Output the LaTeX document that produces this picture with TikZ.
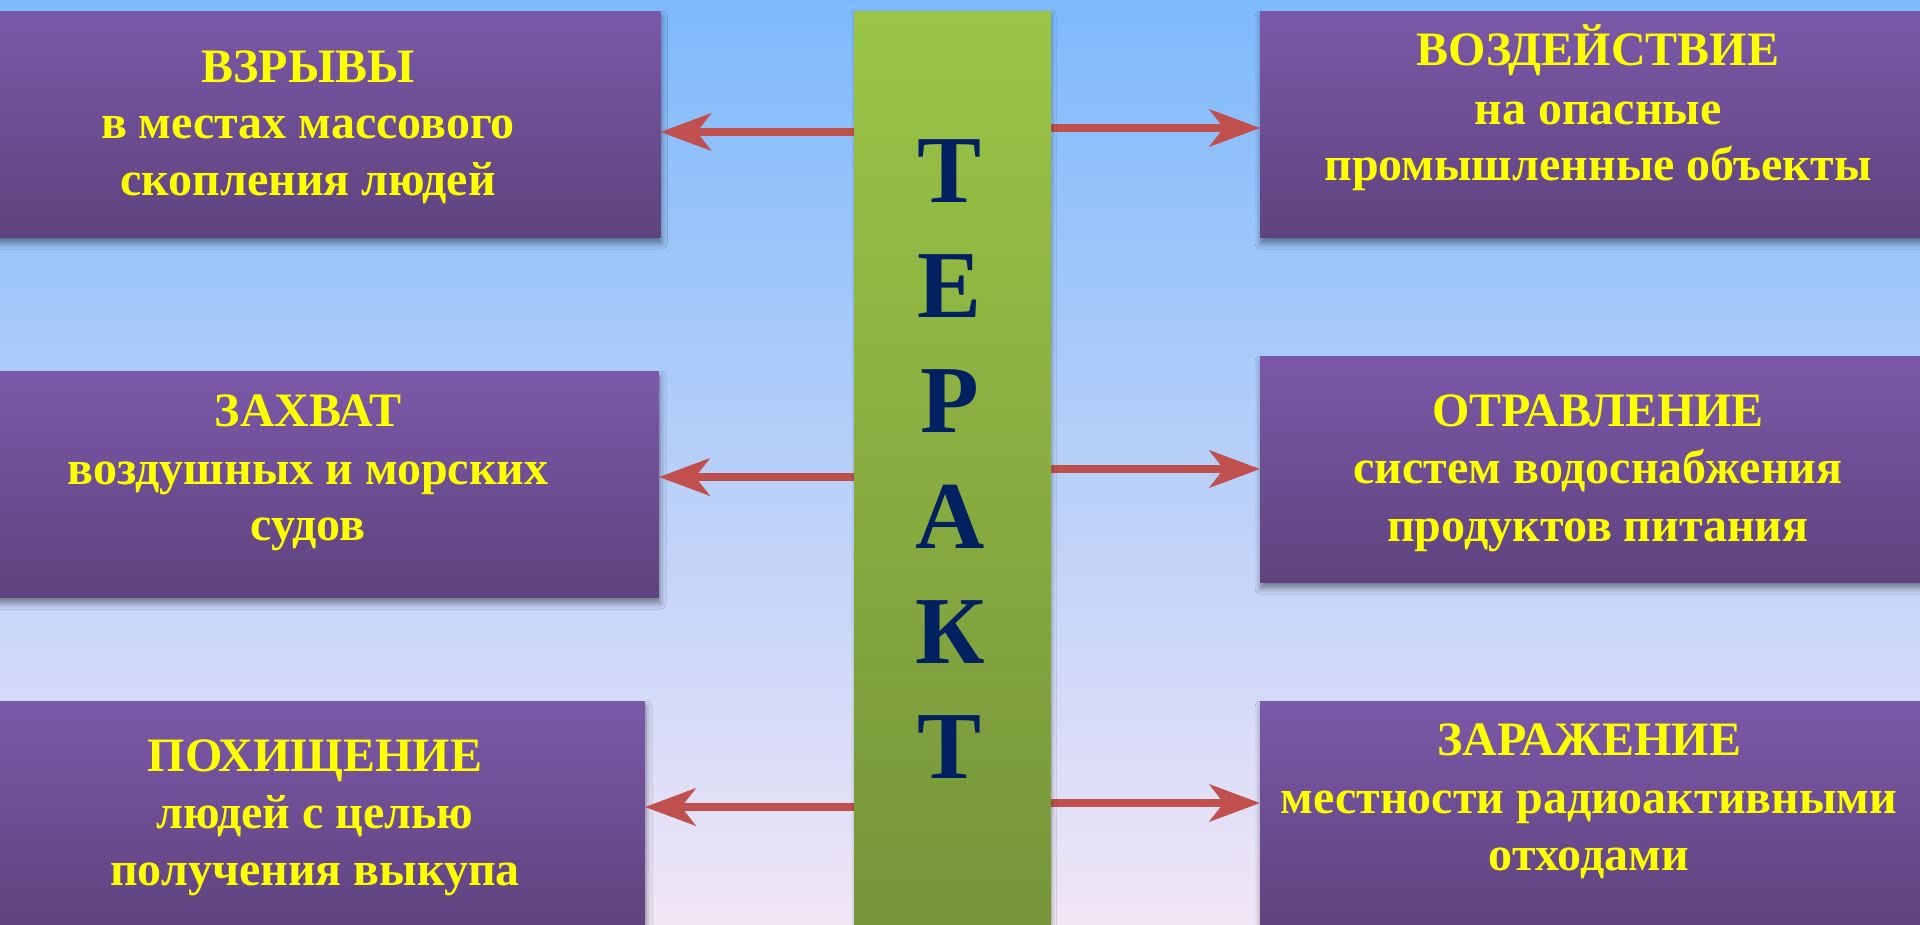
\documentclass[tikz,border=0pt]{standalone}
\usepackage{fontspec}
\setmainfont{Liberation Serif}
\usetikzlibrary{arrows.meta,shadows.blur}
\definecolor{bgtop}{HTML}{7DB9FC}
\definecolor{bgbot}{HTML}{F1E6F6}
\definecolor{boxtop}{HTML}{7B58A8}
\definecolor{boxbot}{HTML}{5F437E}
\definecolor{bartop}{HTML}{9BC547}
\definecolor{barbot}{HTML}{76943A}
\definecolor{arrcol}{HTML}{C0504D}
\definecolor{navy}{HTML}{002060}
\definecolor{txtyel}{HTML}{FFFF00}
\tikzset{
  box/.style={rectangle, inner sep=0pt, top color=boxtop, bottom color=boxbot, draw=none,
    blur shadow={shadow xshift=1pt, shadow yshift=-6pt, shadow blur radius=6pt, shadow opacity=45}},
  bar/.style={rectangle, inner sep=0pt, top color=bartop, bottom color=barbot, draw=none,
    blur shadow={shadow xshift=1pt, shadow yshift=-3pt, shadow blur radius=4pt, shadow opacity=30}},
  ln/.style={anchor=base, inner sep=0pt, text=txtyel, font=\fontsize{48}{57}\selectfont\bfseries},
  letter/.style={anchor=base, inner sep=0pt, text=navy, font=\fontsize{96}{96}\selectfont\bfseries},
  arr/.style={draw=arrcol, line width=8pt, -{Stealth[length=51pt, width=38pt, inset=15pt, line width=0.5pt, fill=arrcol]}},
}
\begin{document}
\begin{tikzpicture}[x=1pt, y=-1pt]
\useasboundingbox (0,0) rectangle (1920,924);
\begin{scope}
\clip (0,0) rectangle (1920,924);
\fill[top color=bgtop, bottom color=bgbot] (-5,-5) rectangle (1925,930);
% boxes
\node[box, minimum width=704pt, minimum height=226pt] (L1) at (308.5,124) {};
\node[box, minimum width=703pt, minimum height=226pt] (L2) at (307.5,484) {};
\node[box, minimum width=660pt, minimum height=226pt] (L3) at (315,814) {};
\node[box, minimum width=674pt, minimum height=226pt] (R1) at (1597,124) {};
\node[box, minimum width=674pt, minimum height=226pt] (R2) at (1597,469) {};
\node[box, minimum width=664pt, minimum height=226pt] (R3) at (1592,814) {};
% arrows
\coordinate (s1) at (858,132);
\coordinate (s2) at (858,477);
\coordinate (s3) at (858,807);
\coordinate (e1) at (1047,128);
\coordinate (e2) at (1047,469);
\coordinate (e3) at (1047,803);
\draw[arr] (s1) -- (L1.east |- s1);
\draw[arr] (s2) -- (L2.east |- s2);
\draw[arr] (s3) -- (L3.east |- s3);
\draw[arr] (e1) -- (R1.west |- e1);
\draw[arr] (e2) -- (R2.west |- e2);
\draw[arr] (e3) -- (R3.west |- e3);
% bar
\node[bar, minimum width=197pt, minimum height=930pt] (B) at (952.5,476) {};
\node[letter] (k1) at (950,202) {Т};
\node[letter] (k2) at (950,317) {Е};
\node[letter] (k3) at (950,432) {Р};
\node[letter] (k4) at (950,548) {А};
\node[letter] (k5) at (950,663) {К};
\node[letter] (k6) at (950,778) {Т};
% texts
\node[ln] (t1a) at (308,82) {ВЗРЫВЫ};
\node[ln] (t1b) at (308,138) {в местах массового};
\node[ln] (t1c) at (308,195) {скопления людей};
\node[ln] (t2a) at (308,426) {ЗАХВАТ};
\node[ln] (t2b) at (308,484) {воздушных и морских};
\node[ln] (t2c) at (308,540) {судов};
\node[ln] (t3a) at (315,771) {ПОХИЩЕНИЕ};
\node[ln] (t3b) at (315,828) {людей с целью};
\node[ln] (t3c) at (315,885) {получения выкупа};
\node[ln] (t4a) at (1598,65) {ВОЗДЕЙСТВИЕ};
\node[ln] (t4b) at (1598,124) {на опасные};
\node[ln] (t4c) at (1598,180) {промышленные объекты};
\node[ln] (t5a) at (1598,426) {ОТРАВЛЕНИЕ};
\node[ln] (t5b) at (1598,483) {систем водоснабжения};
\node[ln] (t5c) at (1598,541) {продуктов питания};
\node[ln] (t6a) at (1589,755) {ЗАРАЖЕНИЕ};
\node[ln] (t6b) at (1589,813) {местности радиоактивными};
\node[ln] (t6c) at (1589,870) {отходами};
\end{scope}
\end{tikzpicture}
\end{document}
